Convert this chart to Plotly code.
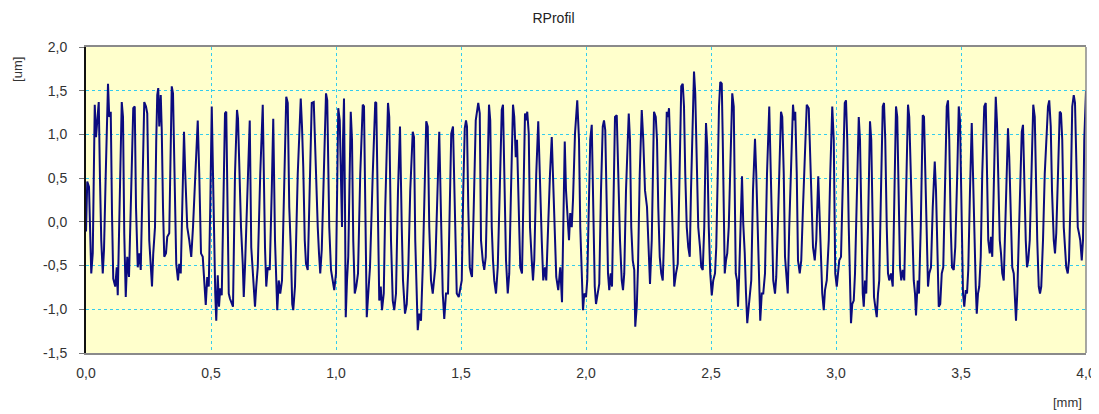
import plotly.graph_objects as go

# Profile data: x position [mm], height [um]
x_mm = [
 0.000,0.005,0.012,0.017,0.021,0.027,0.031,0.035,0.040,0.045,0.051,0.056,0.061,0.067,0.072,0.079,0.088,0.093,0.099,0.104,
 0.109,0.117,0.123,0.127,0.133,0.143,0.148,0.153,0.159,0.165,0.172,0.180,0.189,0.195,0.200,0.207,0.213,0.219,0.225,0.233,
 0.240,0.245,0.253,0.260,0.264,0.269,0.276,0.281,0.285,0.289,0.293,0.299,0.303,0.308,0.313,0.320,0.325,0.333,0.337,0.343,
 0.348,0.355,0.361,0.368,0.373,0.379,0.385,0.392,0.397,0.405,0.413,0.421,0.428,0.437,0.447,0.453,0.460,0.467,0.472,0.479,
 0.485,0.491,0.497,0.503,
 0.508,0.513,0.517,0.521,0.527,0.532,0.537,0.543,0.548,0.556,0.561,0.567,0.571,0.576,0.583,0.588,0.596,0.604,0.608,0.613,
 0.620,0.627,0.631,0.636,0.647,0.655,0.661,0.668,0.676,0.681,0.687,0.697,0.707,0.716,0.721,0.727,0.735,0.743,0.749,0.756,
 0.760,0.765,0.771,0.777,0.784,0.793,0.801,0.807,0.813,0.819,0.825,0.829,0.836,0.847,0.859,0.864,0.869,0.875,0.880,0.887,
 0.895,0.903,0.911,0.917,0.927,0.932,0.937,0.943,0.951,0.960,0.965,0.973,0.980,0.987,0.993,1.000,
 1.009,1.015,1.020,1.024,1.028,1.032,1.036,1.039,1.044,1.049,1.059,1.064,1.069,1.075,1.081,1.088,1.097,1.107,1.112,1.117,
 1.123,1.129,1.136,1.147,1.157,1.161,1.168,1.173,1.179,1.184,1.191,1.197,1.208,1.213,1.220,1.227,1.233,1.240,1.248,1.256,
 1.263,1.268,1.276,1.283,1.289,1.297,1.307,1.312,1.317,1.323,1.327,1.333,1.340,1.347,1.355,1.361,1.367,1.373,1.380,1.387,
 1.397,1.405,1.413,1.421,1.427,1.433,1.440,1.448,1.456,1.461,1.468,1.476,1.483,1.491,
 1.497,1.503,1.509,1.515,1.520,1.524,1.529,1.535,1.540,1.544,1.551,1.559,1.564,1.569,1.575,1.580,1.587,1.593,1.599,1.607,
 1.612,1.617,1.623,1.628,1.633,1.640,1.647,1.655,1.663,1.668,1.673,1.680,1.687,1.693,1.700,1.708,1.713,1.719,1.724,1.731,
 1.737,1.744,1.751,1.756,1.761,1.765,1.771,1.776,1.783,1.788,1.793,1.801,1.809,1.816,1.823,1.829,1.836,1.841,1.848,1.856,
 1.863,1.869,1.876,1.881,1.889,1.897,1.904,1.909,1.915,1.920,1.927,1.932,1.937,1.943,1.948,1.956,1.965,1.972,1.977,1.984,
 1.988,
 1.993,2.000,2.005,2.011,2.017,2.023,2.027,2.031,2.035,2.040,2.047,2.053,2.060,2.067,2.072,2.077,2.083,2.088,2.093,2.099,
 2.104,2.111,2.116,2.123,2.129,2.136,2.143,2.148,2.153,2.160,2.171,2.176,2.181,2.187,2.193,2.197,2.203,2.208,2.215,2.223,
 2.229,2.236,2.244,2.249,2.256,2.263,2.267,2.272,2.279,2.284,2.289,2.295,2.301,2.307,2.312,2.317,2.323,2.328,2.332,2.336,
 2.343,2.348,2.353,2.360,2.367,2.373,2.381,2.387,2.392,2.397,2.403,2.409,2.415,2.420,2.427,2.432,2.437,2.443,2.449,2.456,
 2.461,2.467,2.473,2.480,2.485,2.491,2.497,
 2.503,2.509,2.516,2.521,2.527,2.532,2.537,2.543,2.547,2.551,2.555,2.560,2.565,2.571,2.577,2.585,2.591,2.595,2.599,2.604,
 2.608,2.612,2.617,2.624,2.629,2.635,2.640,2.645,2.651,2.656,2.661,2.668,2.676,2.681,2.687,2.692,2.697,2.703,2.709,2.716,
 2.724,2.733,2.739,2.744,2.749,2.756,2.761,2.767,2.773,2.780,2.785,2.791,2.796,2.801,2.807,2.813,2.820,2.828,2.833,2.837,
 2.843,2.848,2.855,2.861,2.868,2.876,2.883,2.891,2.897,2.903,2.908,2.915,2.921,2.929,2.935,2.940,2.945,2.951,2.956,2.963,
 2.971,2.977,2.985,2.991,
 2.997,3.003,3.008,3.013,3.020,3.027,3.035,3.040,3.045,3.051,3.056,3.060,3.065,3.071,3.076,3.083,3.091,3.096,3.101,3.107,
 3.111,3.116,3.121,3.128,3.136,3.141,3.147,3.152,3.157,3.163,3.168,3.173,3.180,3.187,3.192,3.197,3.203,3.208,3.213,3.220,
 3.227,3.233,3.240,3.245,3.251,3.256,3.261,3.267,3.273,3.280,3.288,3.293,3.299,3.305,3.311,3.316,3.320,3.327,3.332,3.339,
 3.347,3.352,3.357,3.363,3.368,3.373,3.380,3.387,3.395,3.400,3.405,3.411,3.417,3.423,3.429,3.436,3.443,3.448,3.453,3.459,
 3.464,3.471,3.477,3.485,3.491,3.496,
 3.503,3.508,3.513,3.519,3.524,3.529,3.536,3.543,3.548,3.553,3.559,3.563,3.568,3.573,3.579,3.585,3.593,3.599,3.604,3.609,
 3.615,3.620,3.625,3.631,3.639,3.644,3.649,3.655,3.660,3.665,3.671,3.676,3.683,3.688,3.693,3.700,3.705,3.711,3.716,3.720,
 3.725,3.731,3.737,3.743,3.748,3.753,3.759,3.764,3.769,3.775,3.781,3.789,3.795,3.800,3.805,3.811,3.816,3.821,3.828,3.835,
 3.843,3.848,3.853,3.859,3.864,3.871,3.876,3.881,3.888,3.895,3.900,3.905,3.911,3.916,3.921,3.927,3.932,3.939,3.945,3.951,
 3.956,3.961,3.967,3.972,3.977,3.983,3.988,3.993,3.997,4.000,
]

height_um = [
 -0.11,0.46,0.40,-0.29,-0.59,-0.36,0.36,1.34,0.97,1.20,1.37,0.48,-0.21,-0.59,-0.32,0.55,1.58,1.20,1.26,0.10,
 -0.65,-0.74,-0.52,-0.84,0.10,1.37,1.20,-0.13,-0.86,-0.40,-0.63,0.36,1.30,1.32,0.17,-0.52,-0.36,-0.55,0.17,1.37,
 1.32,1.24,-0.21,-0.59,-0.74,-0.36,-0.06,0.94,1.45,1.53,1.09,1.45,1.05,0.17,-0.40,-0.36,-0.17,-0.13,0.55,1.55,
 1.47,0.36,-0.48,-0.67,-0.48,-0.59,0.17,1.03,0.55,-0.06,-0.21,-0.40,-0.06,0.55,1.16,0.55,-0.36,-0.40,-0.59,-0.95,
 -0.63,-0.74,0.17,1.32,
 0.55,-0.40,-0.82,-1.13,-0.61,-0.97,-0.76,-0.84,-0.02,1.24,1.26,-0.06,-0.82,-0.88,-0.94,-0.97,0.55,1.28,1.18,0.55,
 -0.06,-0.48,-0.86,-0.52,0.55,1.16,-0.29,-0.59,-0.97,-0.74,-0.52,0.55,1.34,-0.29,-0.74,-0.52,-0.55,0.36,1.18,-0.21,
 -0.67,-1.01,-0.67,-0.82,-0.67,0.55,1.43,1.36,0.17,-0.29,-0.94,-1.01,-0.74,0.55,1.41,1.09,0.63,-0.21,-0.48,-0.55,
 0.36,1.36,1.37,0.74,-0.06,-0.36,-0.59,-0.32,0.55,1.47,1.39,-0.06,-0.55,-0.67,-0.78,-0.59,
 1.30,1.16,0.36,-0.06,0.94,1.41,0.17,-1.09,-0.67,-0.40,1.26,0.94,-0.21,-0.82,-0.74,-0.59,0.55,1.34,1.32,-0.06,
 -1.09,-0.82,-0.52,0.55,1.37,1.36,-0.06,-0.90,-0.74,-1.01,-0.82,0.17,1.36,1.20,-0.21,-0.90,-1.01,-0.82,0.36,1.09,
 -0.06,-0.67,-1.05,-0.94,-0.55,0.36,1.03,0.97,-0.21,-1.01,-1.24,-1.05,-1.13,-0.52,0.36,1.15,1.09,-0.06,-0.67,-0.82,
 -0.52,0.36,1.03,-0.06,-0.82,-1.11,-0.82,-0.82,0.36,1.01,1.09,-0.06,-0.82,-0.86,
 -0.74,-0.67,0.36,1.07,1.16,1.09,0.17,-0.52,-0.59,-0.63,0.17,1.16,1.26,1.36,1.24,-0.21,-0.44,-0.55,-0.40,0.55,
 1.34,1.16,-0.06,-0.44,-0.67,-0.82,-0.52,0.36,1.28,1.34,0.55,-0.44,-0.82,-0.59,0.36,1.34,1.20,0.74,0.94,-0.06,
 -0.52,-0.59,0.55,1.24,1.16,1.26,1.01,-0.06,-0.44,-0.67,-0.44,0.55,1.15,0.36,-0.21,-0.67,-0.52,-0.67,-0.06,0.55,
 0.97,0.36,-0.21,-0.63,-0.78,-0.52,-0.92,-0.21,0.92,0.36,0.02,-0.21,0.10,-0.06,0.25,1.01,1.39,0.94,-0.06,-0.82,
 -1.01,
 -0.82,-0.86,-0.67,0.17,0.94,1.11,0.55,-0.21,-0.74,-0.94,-0.82,-0.71,0.36,1.09,1.16,1.05,0.17,-0.59,-0.78,-0.59,
 -0.74,0.36,1.20,1.22,0.55,-0.21,-0.67,-0.78,-0.59,0.36,1.24,0.94,-0.06,-0.44,-0.55,-1.20,-0.97,-0.52,0.55,1.28,
 0.94,0.36,0.17,-0.21,-0.71,-0.21,0.55,1.26,1.20,0.94,0.17,-0.40,-0.59,-0.67,-0.21,0.55,1.26,1.20,1.30,0.94,
 0.17,-0.40,-0.74,-0.59,-0.48,0.36,1.55,1.58,1.32,0.55,-0.06,-0.29,-0.40,0.36,1.32,1.72,1.47,0.55,-0.06,-0.29,
 -0.52,-0.55,-0.06,1.13,0.86,-0.06,-0.59,
 -0.84,-0.67,-0.59,-0.29,0.55,1.32,1.60,1.58,0.94,-0.06,-0.59,-0.44,-0.36,-0.06,0.55,1.47,1.32,0.55,-0.59,-0.67,
 -0.97,-0.67,-0.06,0.52,-0.02,-0.36,-0.82,-1.16,-0.97,-0.78,-0.67,0.36,0.95,0.55,-0.21,-0.82,-1.13,-0.82,-0.82,-0.59,
 0.55,1.32,0.55,-0.21,-0.67,-0.82,-0.63,-0.06,0.55,1.26,1.20,0.55,-0.40,-0.59,-0.82,-0.06,0.55,1.34,1.16,1.26,
 0.55,-0.44,-0.59,-0.44,0.17,0.94,1.34,1.30,0.74,0.17,-0.29,-0.44,-0.21,0.52,-0.06,-0.59,-0.82,-1.01,-0.78,-0.67,
 -0.21,0.55,1.32,0.94,
 -0.59,-0.74,-0.59,-0.44,-0.40,0.55,1.36,1.39,0.94,-0.06,-0.82,-1.16,-0.94,-0.90,-0.59,0.36,1.20,0.94,-0.06,-0.82,
 -0.97,-0.67,-0.82,-0.06,1.15,0.94,-0.06,-0.86,-0.97,-1.09,-0.82,-0.67,0.36,1.32,1.36,0.94,-0.06,-0.59,-0.67,-0.59,
 -0.74,0.36,1.32,1.20,0.36,-0.52,-0.67,-0.55,-0.67,0.36,1.34,1.20,0.55,-0.21,-0.67,-0.82,-1.07,-0.67,-0.82,-0.06,
 1.22,1.20,0.55,-0.29,-0.74,-0.59,-0.52,0.17,0.69,0.36,-0.21,-0.97,-0.94,-0.59,-0.52,0.36,1.32,1.39,0.94,-0.06,
 -0.52,-0.55,-0.29,0.55,1.32,1.16,
 -0.21,-0.82,-0.97,-0.78,-0.82,-0.55,0.36,1.13,0.55,-0.21,-0.74,-1.05,-0.82,-0.74,-0.40,0.55,1.32,1.36,0.74,-0.21,
 -0.36,-0.17,-0.40,0.36,1.43,1.13,0.36,-0.21,-0.36,-0.59,-0.67,-0.21,0.55,1.07,0.74,-0.21,-0.52,-0.59,-0.97,-1.13,
 -0.82,-0.21,0.55,1.03,1.11,0.36,-0.21,-0.52,-0.44,-0.21,0.55,1.34,1.20,0.36,-0.21,-0.74,-0.82,-0.74,-0.21,0.55,
 1.13,1.32,1.39,1.09,0.36,-0.21,-0.36,-0.13,0.55,1.26,1.24,0.94,-0.06,-0.29,-0.52,-0.59,-0.44,0.36,1.32,1.45,
 1.36,0.74,-0.06,-0.13,-0.21,-0.44,-0.21,0.94,1.47,1.50,
]

x_tickvals = [0.0, 0.5, 1.0, 1.5, 2.0, 2.5, 3.0, 3.5, 4.0]
x_ticktext = ["0,0", "0,5", "1,0", "1,5", "2,0", "2,5", "3,0", "3,5", "4,0"]
y_tickvals = [-1.5, -1.0, -0.5, 0.0, 0.5, 1.0, 1.5, 2.0]
y_ticktext = ["-1,5", "-1,0", "-0,5", "0,0", "0,5", "1,0", "1,5", "2,0"]

fig = go.Figure()
fig.add_trace(go.Scatter(
    x=x_mm, y=height_um, mode="lines",
    line=dict(color="#0b0b7e", width=2),
    showlegend=False, hoverinfo="x+y",
))

# the page body adds an 8 px margin, so the figure is sized to the remaining area
fig.update_layout(
    width=1091, height=406,
    margin=dict(l=78, r=13, t=39, b=61, autoexpand=False),
    paper_bgcolor="white",
    plot_bgcolor="#ffffcc",
    font=dict(family="Liberation Sans, Arial, sans-serif", size=13, color="#333333"),
    title=dict(text="RProfil", x=0.5, xanchor="center", y=1 - 10 / 406, yanchor="middle",
               yref="container", font=dict(size=14, color="#222222")),
)

fig.update_xaxes(
    range=[0, 4.0], tickvals=x_tickvals, ticktext=x_ticktext,
    tickfont=dict(size=14, color="#333333"),
    showgrid=True, gridcolor="#33ccee", griddash="dot", gridwidth=1,
    showline=True, linecolor="#8a8a8a", linewidth=2, mirror=True,
    ticks="", ticklabelstandoff=6, automargin=False,
    zeroline=False,
)
fig.update_yaxes(
    range=[-1.5, 2.0], tickvals=y_tickvals, ticktext=y_ticktext,
    tickfont=dict(size=14, color="#333333"),
    showgrid=True, gridcolor="#33ccee", griddash="dot", gridwidth=1,
    showline=True, linecolor="#111111", linewidth=2, mirror=False,
    ticks="outside", ticklen=5, tickcolor="#777777", ticklabelstandoff=9, automargin=False,
    zeroline=True, zerolinecolor="#555555", zerolinewidth=1,
)

# right border of the plot area
fig.add_shape(type="line", xref="paper", yref="paper", x0=1, x1=1, y0=0, y1=1,
              line=dict(color="#8a8a8a", width=1.5))

fig.add_annotation(text="[um]", xref="paper", yref="paper", x=-0.068, y=0.925,
                   textangle=-90, showarrow=False, xanchor="center", yanchor="middle",
                   font=dict(size=13, color="#333333"))
fig.add_annotation(text="[mm]", xref="paper", yref="paper", x=0.981, y=-0.163,
                   showarrow=False, xanchor="center", yanchor="middle",
                   font=dict(size=13, color="#333333"))

fig.write_html("out.html")
